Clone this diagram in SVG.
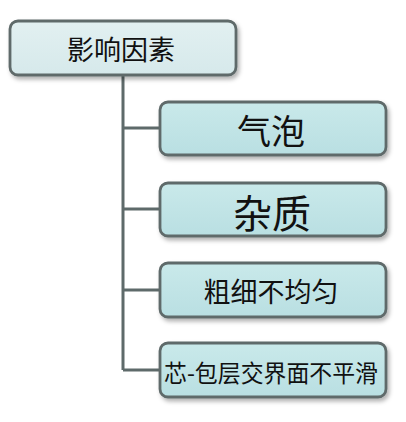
<svg xmlns="http://www.w3.org/2000/svg" width="406" height="422" viewBox="0 0 406 422">
<defs>
<filter id="sh" x="-10%" y="-20%" width="130%" height="160%">
<feDropShadow dx="2" dy="3" stdDeviation="2" flood-color="#000" flood-opacity="0.3"/>
</filter>
<linearGradient id="gc" x1="0" y1="0" x2="0" y2="1">
<stop offset="0" stop-color="#c9e9ea"/>
<stop offset="1" stop-color="#b9dfe2"/>
</linearGradient>
<linearGradient id="gr" x1="0" y1="0" x2="0" y2="1">
<stop offset="0" stop-color="#e2f0f1"/>
<stop offset="1" stop-color="#d6e9eb"/>
</linearGradient>
</defs>
<style>
.box{stroke:#5e6a6a;stroke-width:2.8;filter:url(#sh)}
.root{fill:url(#gr)}
.child{fill:url(#gc)}
.t{font-family:"Noto Sans CJK SC","Noto Sans CJK JP",sans-serif;fill:#111;text-anchor:middle;dominant-baseline:central}
.con{stroke:#5e6a6a;stroke-width:3;fill:none}
</style>
<rect width="406" height="422" fill="#ffffff"/>
<g id="connectors">
<path class="con" d="M123 75 V370 M123 128 H159 M123 209 H159 M123 290 H159 M123 370 H159"/>
</g>
<g id="root">
<rect class="box root" x="10" y="21" width="226" height="54" rx="8"/>
<text class="t" x="121" y="48" font-size="27">影响因素</text>
</g>
<g id="n1">
<rect class="box child" x="160" y="102" width="226" height="53" rx="8"/>
<text class="t" x="271" y="129" font-size="34">气泡</text>
</g>
<g id="n2">
<rect class="box child" x="160" y="183" width="226" height="53" rx="8"/>
<text class="t" x="272" y="211" font-size="39">杂质</text>
</g>
<g id="n3">
<rect class="box child" x="160" y="263" width="226" height="54" rx="8"/>
<text class="t" x="271" y="290" font-size="27">粗细不均匀</text>
</g>
<g id="n4">
<rect class="box child" x="160" y="343" width="226" height="54" rx="8"/>
<text class="t" x="271" y="371" font-size="24" textLength="214" lengthAdjust="spacingAndGlyphs">芯-包层交界面不平滑</text>
</g>
</svg>
